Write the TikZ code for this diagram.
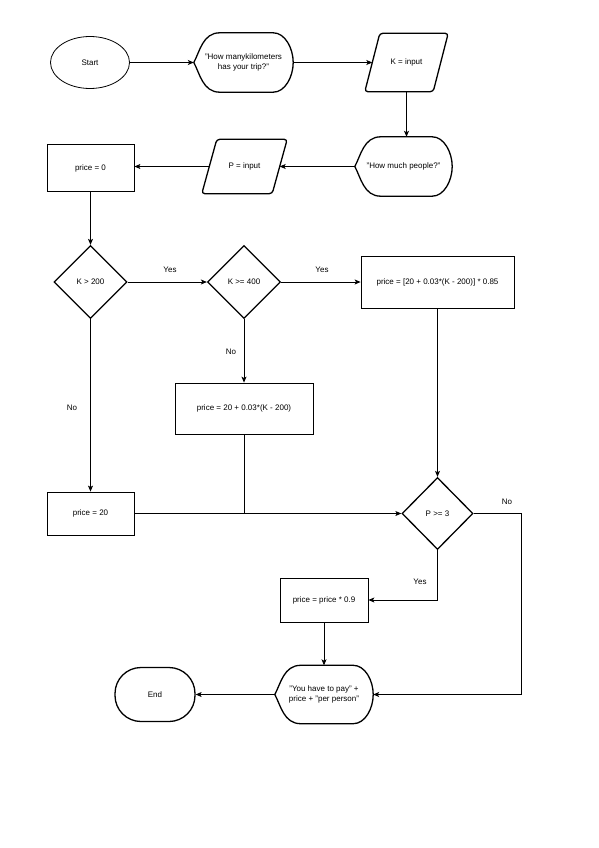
\documentclass[tikz,border=0pt]{standalone}
\usepackage{fontspec}
\setmainfont{Liberation Sans}
\usetikzlibrary{arrows.meta,calc,shapes.geometric}
\newcommand\dispshape[1]{%
  \draw[thickline] (#1.west) .. controls ($(#1.west)+(6,-11)$) and ($(#1.north west)+(9,0)$) .. ($(#1.north west)+(26,0)$)
    -- ($(#1.north east)+(-20,0)$) .. controls ($(#1.north east)+(-8,0)$) and ($(#1.east)+(0,-14)$) .. (#1.east)
    .. controls ($(#1.east)+(0,14)$) and ($(#1.south east)+(-8,0)$) .. ($(#1.south east)+(-20,0)$)
    -- ($(#1.south west)+(26,0)$) .. controls ($(#1.south west)+(9,0)$) and ($(#1.west)+(6,11)$) .. (#1.west);}
\newcommand\paralshape[1]{%
  \draw[thickline, rounded corners=3pt] ($(#1.south west)+(-7.5,0)$) -- ($(#1.north west)+(7.5,0)$)
    -- ($(#1.north east)+(7.5,0)$) -- ($(#1.south east)+(-7.5,0)$) -- cycle;}
\begin{document}
\begin{tikzpicture}[x=1pt,y=-1pt,
  font=\fontsize{8}{10.5}\selectfont,
  thinline/.style={line width=0.8pt},
  thickline/.style={line width=1.3pt},
  arr/.style={thinline, -{Stealth[length=6pt,width=5pt,inset=1.5pt]}},
  procbox/.style={draw, thinline, rectangle, inner sep=0pt, align=center},
  decision/.style={draw, thickline, diamond, inner sep=0pt, minimum width=73pt, minimum height=73pt},
  hidden/.style={draw=none, rectangle, inner sep=0pt, align=center},
  lbl/.style={inner sep=1pt}]
\useasboundingbox[fill=white] (0,0) rectangle (599,848);

% shapes
\node[draw, thinline, ellipse, minimum width=79pt, minimum height=52pt, inner sep=0pt] (start) at (90,62.5) {Start};
\node[hidden, minimum width=99pt, minimum height=59pt] (d1) at (243.5,62.5) {"How manykilometers\\has your trip?"};
\dispshape{d1}
\node[hidden, minimum width=68pt, minimum height=58pt] (kin) at (406.5,62.5) {K = input};
\paralshape{kin}
\node[hidden, minimum width=97pt, minimum height=59pt] (d2) at (403.5,166.5) {"How much people?"};
\dispshape{d2}
\node[hidden, minimum width=70pt, minimum height=54pt] (pin) at (244.5,166.5) {P = input};
\paralshape{pin}
\node[procbox, minimum width=87pt, minimum height=47pt] (p0) at (90.5,168) {price = 0};

\node[decision] (k200) at (90.5,282) {K > 200};
\node[decision] (k400) at (244,282) {K >= 400};
\node[procbox, minimum width=153pt, minimum height=52pt] (r85) at (437.5,282) {price = [20 + 0.03*(K - 200)] * 0.85};
\node[procbox, minimum width=138pt, minimum height=51pt] (r03) at (244,408.5) {price = 20 + 0.03*(K - 200)};
\node[procbox, minimum width=87pt, minimum height=43pt] (p20) at (90.5,513.5) {price = 20};
\node[decision, minimum width=71pt, minimum height=72pt] (p3) at (437.5,513.5) {P >= 3};
\node[procbox, minimum width=88pt, minimum height=44pt] (p09) at (324,600) {price = price * 0.9};
\node[hidden, minimum width=98pt, minimum height=58pt] (d3) at (324,694.5) {"You have to pay" +\\price + "per person"};
\dispshape{d3}
\node[draw, thickline, rectangle, rounded corners=26pt, minimum width=80pt, minimum height=54pt, inner sep=0pt] (endn) at (155,694.5) {End};

% connectors
\draw[arr] (start.east) -- (d1.west);
\draw[arr] (d1.east) -- (kin.west);
\draw[arr] (kin.south) -- (kin.south |- d2.north);
\draw[arr] (d2.west) -- (pin.east);
\draw[arr] (pin.west) -- (pin.west -| p0.east);
\draw[arr] (p0.south) -- (k200.north);
\draw[arr] (k200.east) -- (k400.west);
\draw[arr] (k400.east) -- (r85.west);
\draw[arr] (k400.south) -- (r03.north);
\draw[arr] (k200.south) -- (p20.north);
\draw[arr] (p20.east) -- (p3.west);
\draw[thinline] (r03.south) -- (r03.south |- p3.west);
\draw[arr] (r85.south) -- (p3.north);
\coordinate (noturn) at (521,513.5);
\draw[arr] (p3.east) -- (noturn) |- (d3.east);
\draw[arr] (p3.south) |- (p09.east);
\draw[arr] (p09.south) -- (d3.north);
\draw[arr] (d3.west) -- (endn.east);

% labels
\node[lbl] (yes1) at (170,270) {Yes};
\node[lbl] (yes2) at (322,270) {Yes};
\node[lbl] (no1) at (231,352) {No};
\node[lbl] (no2) at (72,408) {No};
\node[lbl] (no3) at (507,502) {No};
\node[lbl] (yes3) at (420,582) {Yes};
\end{tikzpicture}
\end{document}
